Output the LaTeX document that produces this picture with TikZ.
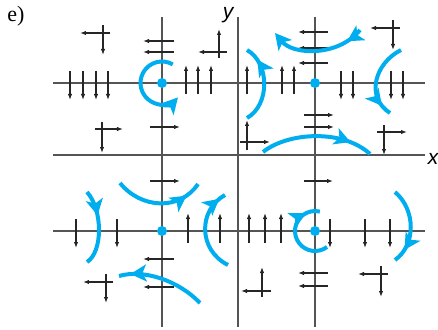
\documentclass[tikz,border=0pt]{standalone}
\usepackage{fontspec}
\setmainfont{Liberation Serif}
\newfontfamily\axisfont{Liberation Sans}
\usetikzlibrary{arrows.meta,decorations.markings}
\definecolor{flowblue}{RGB}{0,174,239}
\definecolor{gridgray}{RGB}{85,85,85}

\begin{document}
\begin{tikzpicture}[x=1pt,y=1pt,
  axis/.style={gridgray,line width=1.5pt},
  vec/.style={black!85,line width=1.1pt,-{Latex[length=6pt,width=4.4pt]}},
  flow/.style={flowblue,line width=4pt,-{Stealth[length=16pt,width=17pt,inset=4pt]}},
  flowmid/.style={flowblue,line width=4pt,postaction={decorate},
    decoration={markings,mark=at position #1 with {\arrow{Stealth[length=16pt,width=17pt,inset=4pt,flowblue]}}}}]

\useasboundingbox (-238,-174) rectangle (200,155);

\coordinate (E1) at (-76,72);
\coordinate (E2) at (77,72);
\coordinate (E3) at (-76,-76);
\coordinate (E4) at (77,-76);

\draw[axis] (-185,0) -- (187,0);
\draw[axis] (0,138) -- (0,-172);
\draw[axis] (-185,72) -- (187,72);
\draw[axis] (-185,-76) -- (187,-76);
\draw[axis] (-76,138) -- (-76,-172);
\draw[axis] (77,138) -- (77,-172);

\node (elabel) at (-222,139) {\fontsize{22}{24}\selectfont e)};
\node (xlabel) at (195,-4) {\axisfont\itshape\fontsize{21}{24}\selectfont x};
\node (ylabel) at (-10,140) {\axisfont\itshape\fontsize{21}{24}\selectfont y};

% upper left
\draw[vec] (-128,122) -- (-158,122);
\draw[vec] (-135,130) -- (-135,100);
\draw[vec] (-64,114) -- (-95,114);
\draw[vec] (-64,103) -- (-95,103);
\foreach \x in {-168,-155,-142,-130} \draw[vec] (\x,84) -- (\x,55);
\foreach \x in {-52,-40,-27,9,44,56} \draw[vec] (\x,61) -- (\x,90);
\draw[vec] (-143,26) -- (-115,26);
\draw[vec] (-136,33) -- (-136,2);
\draw[vec] (-88,28) -- (-58,28);
\draw[vec] (-19,97) -- (-19,126);
\draw[vec] (-11,103) -- (-40,103);

% upper right
\foreach \y in {123,107,92} \draw[vec] (90,\y) -- (60,\y);
\draw[vec] (162,127) -- (132,127);
\draw[vec] (155,135) -- (155,105);
\foreach \x in {103,115,153,165} \draw[vec] (\x,84) -- (\x,55);
\foreach \y in {40,28} \draw[vec] (66,\y) -- (96,\y);
\draw[vec] (2,13) -- (32,13);
\draw[vec] (9,5) -- (9,35);
\draw[vec] (139,23) -- (169,23);
\draw[vec] (146,30) -- (146,0);

% lower left
\draw[vec] (-88,-26) -- (-58,-26);
\foreach \x in {-162,-121} \draw[vec] (\x,-64) -- (\x,-93);
\foreach \x in {-50,-18,11,27,43} \draw[vec] (\x,-88) -- (\x,-58);
\foreach \y in {-104,-132} \draw[vec] (-64,\y) -- (-95,\y);
\draw[vec] (-125,-127) -- (-155,-127);
\draw[vec] (-132,-119) -- (-132,-148);

% lower right
\draw[vec] (66,-26) -- (95,-26);
\foreach \x in {92,127,152} \draw[vec] (\x,-64) -- (\x,-93);
\foreach \y in {-118,-131} \draw[vec] (90,\y) -- (60,\y);
\draw[vec] (150,-119) -- (120,-119);
\draw[vec] (143,-111) -- (143,-142);
\draw[vec] (33,-136) -- (3,-136);
\draw[vec] (24,-142) -- (24,-112);

% trajectories
\draw[flow] ([shift={(60:21.5)}]E1) arc[start angle=60,end angle=318,radius=21.5];
\draw[flowmid=0.82] ([shift={(-53:20)}]E4) arc[start angle=-53,end angle=-284,radius=20];
\draw[flow,flowmid=0.18] (122,125) .. controls (100,98) and (55,100) .. (37,122);
\draw[flowmid=0.86] (163,105) .. controls (137,92) and (127,58) .. (152,42);
\draw[flowmid=0.82] (9,37) .. controls (32,50) and (32,92) .. (9,105);
\draw[flowmid=0.8] (25,3) .. controls (50,23) and (105,26) .. (132,1);
\draw[flowmid=0.82] (-118,-28) .. controls (-97,-54) and (-58,-56) .. (-40,-29);
\draw[flowmid=0.34] (-151,-37) .. controls (-135,-55) and (-135,-97) .. (-151,-107);
\draw[flowmid=0.92] (-10,-110) .. controls (-40,-95) and (-40,-55) .. (-13,-40);
\draw[flowmid=0.87] (-38,-148) .. controls (-60,-125) and (-95,-114) .. (-119,-121);
\draw[flowmid=0.82] (157,-37) .. controls (178,-55) and (178,-90) .. (157,-105);

\foreach \p in {E1,E2,E3,E4} \fill[flowblue] (\p) circle (5);

\end{tikzpicture}
\end{document}
